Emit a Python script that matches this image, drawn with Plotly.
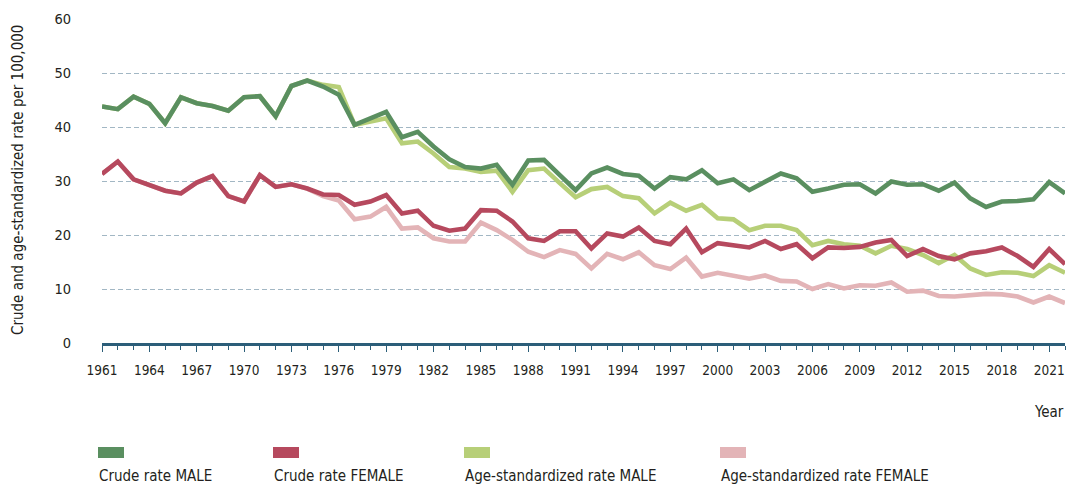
import plotly.graph_objects as go

years = list(range(1961, 2023))

crude_male = [43.8, 43.3, 45.6, 44.3, 40.7, 45.5, 44.4, 43.9, 43.0, 45.5,
              45.7, 42.0, 47.6, 48.6, 47.5, 46.0, 40.4, 41.6, 42.8, 38.1,
              39.1, 36.4, 34.0, 32.6, 32.3, 33.0, 29.3, 33.8, 33.9, 31.1,
              28.3, 31.4, 32.5, 31.3, 31.0, 28.6, 30.7, 30.3, 32.0, 29.6,
              30.3, 28.3, 29.9, 31.4, 30.5, 28.0, 28.6, 29.3, 29.4, 27.7,
              29.9, 29.3, 29.4, 28.2, 29.7, 26.8, 25.2, 26.2, 26.3, 26.6,
              29.8, 27.7]

crude_female = [31.3, 33.6, 30.3, 29.3, 28.2, 27.7, 29.7, 30.9, 27.2, 26.2,
                31.1, 28.9, 29.4, 28.6, 27.5, 27.4, 25.6, 26.2, 27.4, 24.0,
                24.5, 21.7, 20.8, 21.2, 24.6, 24.5, 22.5, 19.4, 18.9, 20.7,
                20.7, 17.5, 20.3, 19.7, 21.4, 18.9, 18.3, 21.2, 16.8, 18.5,
                18.0, 17.7, 18.9, 17.4, 18.3, 15.7, 17.7, 17.6, 17.8, 18.6,
                19.1, 16.1, 17.4, 16.1, 15.5, 16.6, 17.0, 17.7, 16.1, 14.1,
                17.4, 14.6]

asr_male = [43.8, 43.3, 45.6, 44.3, 40.7, 45.5, 44.4, 43.9, 43.0, 45.5,
            45.7, 42.0, 47.6, 48.6, 47.8, 47.4, 40.4, 41.0, 41.6, 37.0,
            37.3, 35.1, 32.6, 32.3, 31.7, 31.9, 28.0, 32.0, 32.3, 29.6,
            27.0, 28.5, 28.9, 27.2, 26.8, 24.0, 26.0, 24.5, 25.6, 23.1,
            22.9, 20.9, 21.7, 21.7, 20.9, 18.1, 18.9, 18.3, 18.0, 16.6,
            18.0, 17.4, 16.3, 14.8, 16.3, 13.8, 12.6, 13.1, 13.0, 12.4,
            14.4, 13.0]

asr_female = [31.3, 33.6, 30.3, 29.3, 28.2, 27.7, 29.7, 30.9, 27.2, 26.2,
              31.1, 28.9, 29.4, 28.6, 27.2, 26.4, 22.9, 23.4, 25.2, 21.2,
              21.4, 19.4, 18.8, 18.8, 22.3, 20.9, 19.1, 16.9, 15.9, 17.2,
              16.5, 13.8, 16.5, 15.5, 16.8, 14.4, 13.7, 15.8, 12.3, 13.0,
              12.4, 11.9, 12.5, 11.5, 11.4, 10.0, 10.9, 10.1, 10.7, 10.6,
              11.2, 9.5, 9.7, 8.7, 8.6, 8.8, 9.1, 9.0, 8.6, 7.5,
              8.6, 7.4]

series_names = ["Crude rate MALE", "Crude rate FEMALE",
                "Age-standardized rate MALE", "Age-standardized rate FEMALE"]
series_colors = ["#5a8f60", "#b6495e", "#b7cf78", "#e3b4b7"]
series_values = [crude_male, crude_female, asr_male, asr_female]

x_tick_labels = list(range(1961, 2022, 3))
y_tick_values = [0, 10, 20, 30, 40, 50, 60]

FONT = "DejaVu Sans Condensed, Liberation Sans Narrow, sans-serif"
TXT = "#231f20"

fig = go.Figure()
# draw age-standardized first so crude rates sit on top
for idx in [3, 2, 1, 0]:
    fig.add_trace(go.Scatter(
        x=years, y=series_values[idx], mode="lines", name=series_names[idx],
        line=dict(color=series_colors[idx], width=4.6),
        showlegend=False,
    ))

W, H = 1069, 488
L, R, T, B = 102, 4, 19, 145
pw = W - L - R
ph = H - T - B

def px_x(x):
    return (x - L) / pw

def px_y(y):
    return (H - B - y) / ph

fig.update_layout(
    width=W, height=H,
    margin=dict(l=L, r=R, t=T, b=B, autoexpand=False),
    paper_bgcolor="white", plot_bgcolor="white",
    font=dict(family=FONT, size=14, color=TXT),
    showlegend=False,
    xaxis=dict(
        range=[1961, 2022], tickvals=x_tick_labels,
        ticktext=[str(v) for v in x_tick_labels],
        showgrid=False, zeroline=False,
        showline=True, linecolor="#2c5e79", linewidth=2.5,
        ticks="outside", ticklen=6, tickcolor="#2c5e79", tickwidth=1,
        tickfont=dict(family=FONT, size=13.5, color=TXT),
        ticklabelstandoff=7,
        minor=dict(dtick=1, tick0=1961, ticks="outside", ticklen=4,
                   tickcolor="#2c5e79", tickwidth=1, showgrid=False),
        fixedrange=True,
    ),
    yaxis=dict(
        range=[0, 60], tickvals=y_tick_values,
        showgrid=True, gridcolor="#a2b7c4", gridwidth=1.2,
        griddash="5px,3px",
        zeroline=False, showline=False, ticks="",
        tickfont=dict(family=FONT, size=14.5, color=TXT),
        ticklabelstandoff=30,
        fixedrange=True,
    ),
)

annotations = [
    dict(text="Crude and age-standardized rate per 100,000", textangle=-90,
         xref="paper", yref="paper", x=px_x(18), y=px_y(180),
         xanchor="center", yanchor="middle", showarrow=False,
         font=dict(family=FONT, size=15, color=TXT)),
    dict(text="Year", xref="paper", yref="paper", x=px_x(1066), y=px_y(412),
         xanchor="right", yanchor="middle", showarrow=False,
         font=dict(family=FONT, size=15, color=TXT)),
]

legend_x = [98, 273, 464, 720]
shapes = []
for i, name in enumerate(series_names):
    shapes.append(dict(type="rect", xref="paper", yref="paper",
                       x0=px_x(legend_x[i]), x1=px_x(legend_x[i] + 26),
                       y0=px_y(458), y1=px_y(447),
                       fillcolor=series_colors[i], line=dict(width=0)))
    annotations.append(dict(text=name, xref="paper", yref="paper",
                            x=px_x(legend_x[i] - 1), y=px_y(476),
                            xanchor="left", yanchor="middle", showarrow=False,
                            font=dict(family=FONT, size=15, color=TXT)))

fig.update_layout(annotations=annotations, shapes=shapes)

fig.write_html("out.html", config={"displayModeBar": False},
               post_script="document.body.style.margin='0';document.body.style.overflow='hidden';")
